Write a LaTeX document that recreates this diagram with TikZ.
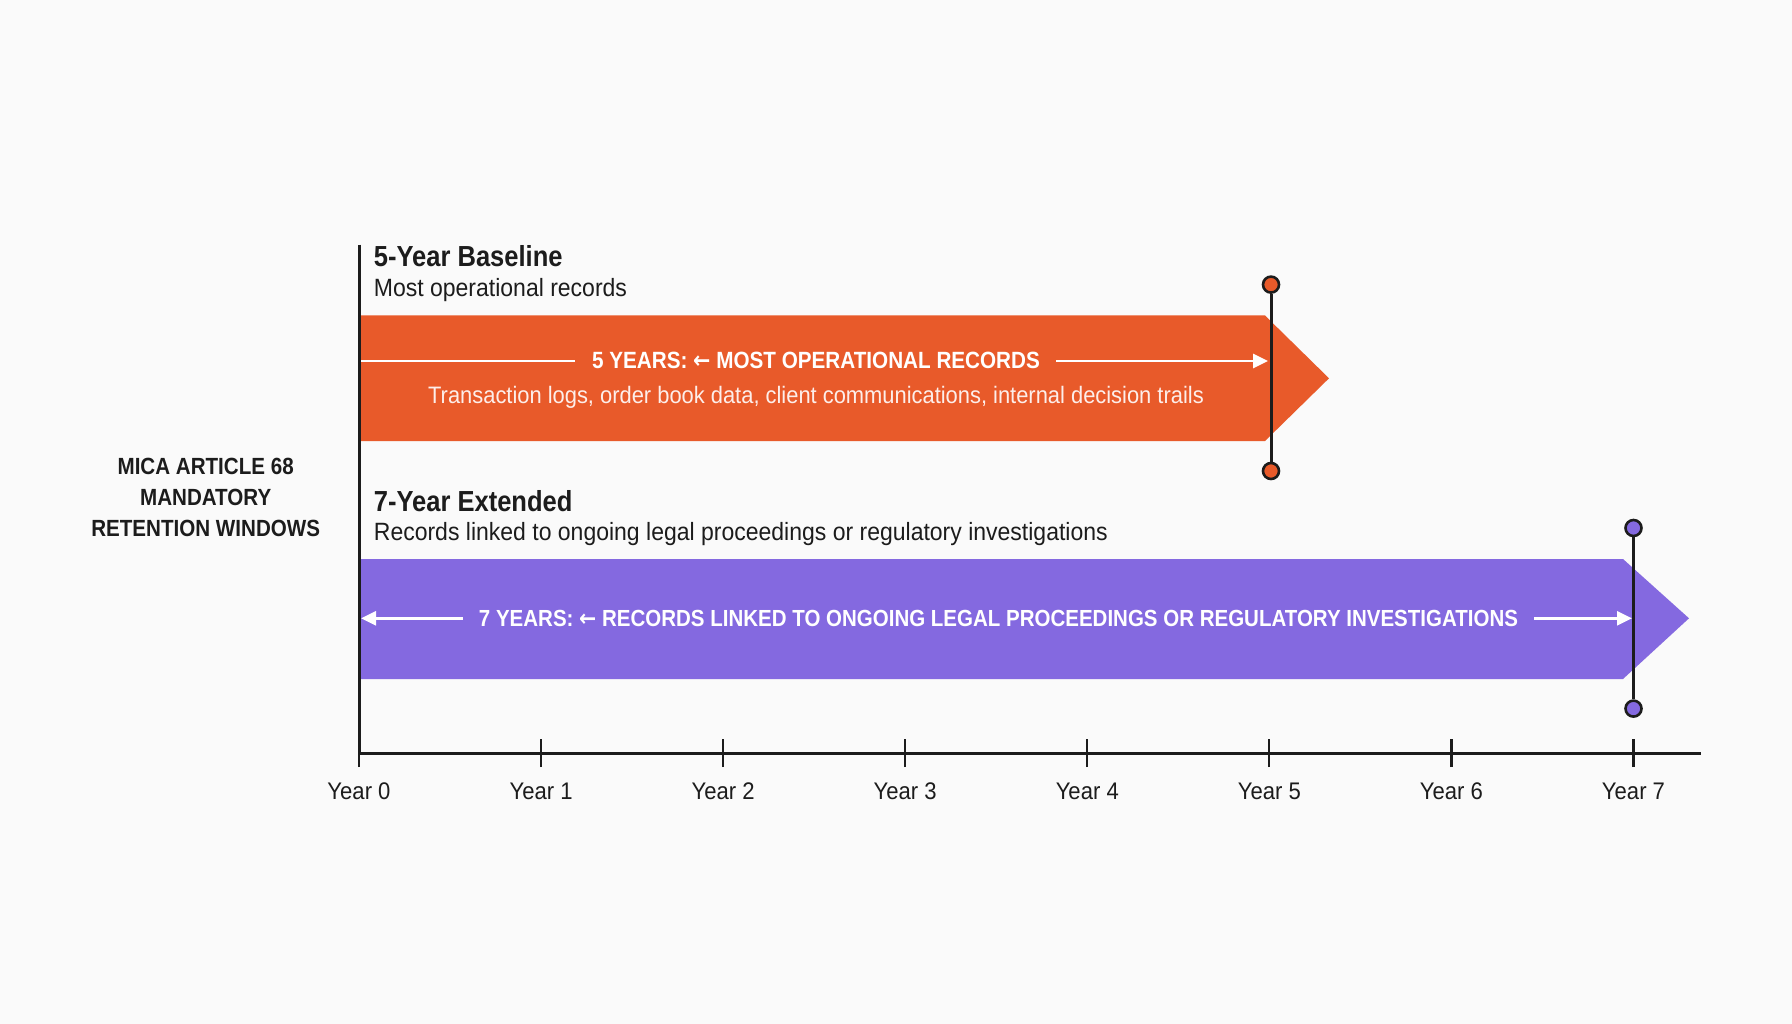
\documentclass[tikz,border=0pt]{standalone}
\usepackage{fontspec}
\setmainfont{Liberation Sans}[FakeStretch=0.92]
\newfontfamily\regf{Liberation Sans}[FakeStretch=0.92]
\newfontfamily\boldf{Liberation Sans}[FakeStretch=0.88]
\newfontfamily\arrowfont{DejaVu Sans}[FakeStretch=0.88]
\usetikzlibrary{arrows.meta}
\definecolor{bg}{HTML}{FAFAFA}
\definecolor{orng}{HTML}{E85A2A}
\definecolor{purp}{HTML}{8469E0}
\definecolor{ink}{HTML}{1C1C1C}
\tikzset{
  title/.style={anchor=base west,inner sep=0pt,font=\boldf\fontsize{29}{32}\selectfont\bfseries,text=ink},
  sub/.style={anchor=base west,inner sep=0pt,font=\regf\fontsize{25}{28}\selectfont,text=ink},
  captxt/.style={anchor=base,inner sep=0pt,font=\boldf\fontsize{23.5}{27}\selectfont\bfseries,text=white},
  detail/.style={anchor=base,inner sep=0pt,font=\regf\fontsize{23.8}{27}\selectfont,text=white!90!orng},
  wline/.style={white,line width=2.6pt},
  warrow/.style={wline,-{Triangle[length=15pt,width=14pt]}},
  marker/.style={ink,line width=3pt},
  dot/.style={circle,draw=ink,line width=2.6pt,minimum size=16pt,inner sep=0pt},
  yearlbl/.style={anchor=base,inner sep=0pt,font=\regf\fontsize{24}{27}\selectfont,text=ink},
  side/.style={align=center,inner sep=0pt,font=\boldf\fontsize{23.4}{31}\selectfont\bfseries,text=ink}
}
\newcommand{\larr}{{\arrowfont\char"2190}}
\begin{document}
\begin{tikzpicture}[x=1pt,y=-1pt]
\fill[bg] (0,0) rectangle (1792,1024);
\useasboundingbox (0,0) rectangle (1792,1024);

% bars
\fill[orng] (359,315.5) -- (1265,315.5) -- (1329,378.3) -- (1265,441) -- (359,441) -- cycle;
\fill[purp] (359,559) -- (1623,559) -- (1689,618.3) -- (1623,679) -- (359,679) -- cycle;

% side label
\node[side] (side) at (205.7,497) {MICA ARTICLE 68\\MANDATORY\\RETENTION WINDOWS};

% titles
\node[title] (t5) at (373.7,267) {5-Year Baseline};
\node[sub] (s5) at (373.7,297) {Most operational records};
\node[title] (t7) at (373.7,511) {7-Year Extended};
\node[sub] (s7) at (373.7,540.5) {Records linked to ongoing legal proceedings or regulatory investigations};

% orange bar contents
\node[captxt] (o5) at (816,369) {5 YEARS: \larr\ MOST OPERATIONAL RECORDS};
\node[detail] (od) at (816,403) {Transaction logs, order book data, client communications, internal decision trails};
\coordinate (oL) at (359,361);
\coordinate (oR) at (1268,361);
\draw[wline] (oL) -- ([xshift=-17pt]o5.west |- oL);
\draw[warrow] ([xshift=16pt]o5.east |- oR) -- (oR);

% purple bar contents
\node[captxt,font=\boldf\fontsize{23.3}{27}\selectfont\bfseries] (p7) at (998.5,626) {7 YEARS: \larr\ RECORDS LINKED TO ONGOING LEGAL PROCEEDINGS OR REGULATORY INVESTIGATIONS};
\coordinate (pL) at (361,618.3);
\coordinate (pR) at (1632,618.3);
\draw[warrow] ([xshift=-16pt]p7.west |- pL) -- (pL);
\draw[warrow] ([xshift=16pt]p7.east |- pR) -- (pR);

% end markers
\node[dot,fill=orng] (o5top) at (1271,284.6) {};
\node[dot,fill=orng] (o5bot) at (1271,471) {};
\draw[marker] (o5top) -- (o5bot);
\node[dot,fill=purp] (p7top) at (1633.5,528) {};
\node[dot,fill=purp] (p7bot) at (1633.5,708.6) {};
\draw[marker] (p7top) -- (p7bot);

% axes
\coordinate (axTop) at (359,244.6);
\coordinate (axO) at (359,753);
\coordinate (axEnd) at (1701,753);
\draw[ink,line width=3pt] (axTop) -- (axO) -- (axEnd);
\foreach \k in {0,...,7}{
  \coordinate (tk\k) at (359+\k*182.07,753);
  \draw[ink,line width=2.2pt] ([yshift=-14pt]tk\k) -- ([yshift=14pt]tk\k);
  \node[yearlbl] (yl\k) at (359+\k*182.07,799) {Year \k};
}
\end{tikzpicture}
\end{document}
